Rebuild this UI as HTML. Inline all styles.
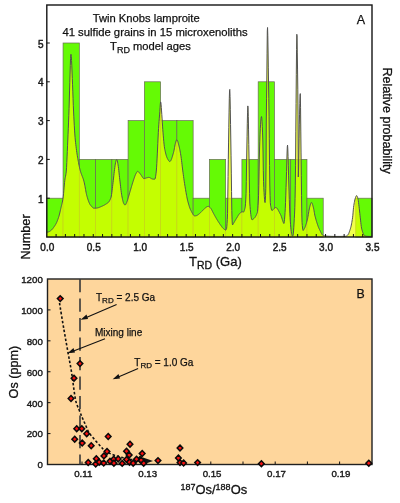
<!DOCTYPE html>
<html><head><meta charset="utf-8"><style>
html,body{margin:0;padding:0;background:#fff;}
svg{display:block;font-family:"Liberation Sans",sans-serif;filter:blur(0.35px);}
</style></head><body>
<svg width="400" height="503" viewBox="0 0 400 503">
<rect x="0" y="0" width="400" height="503" fill="#fff"/>
<g fill="#65fa05" stroke="#6a6a58" stroke-width="0.7">
<rect x="46.80" y="198.20" width="16.26" height="38.80"/>
<rect x="63.06" y="43.00" width="16.26" height="194.00"/>
<rect x="79.32" y="159.40" width="16.26" height="77.60"/>
<rect x="95.58" y="159.40" width="16.26" height="77.60"/>
<rect x="111.84" y="159.40" width="16.26" height="77.60"/>
<rect x="128.10" y="120.60" width="16.26" height="116.40"/>
<rect x="144.36" y="81.80" width="16.26" height="155.20"/>
<rect x="160.62" y="120.60" width="16.26" height="116.40"/>
<rect x="176.88" y="120.60" width="16.26" height="116.40"/>
<rect x="193.14" y="198.20" width="16.26" height="38.80"/>
<rect x="209.40" y="159.40" width="16.26" height="77.60"/>
<rect x="225.66" y="198.20" width="16.26" height="38.80"/>
<rect x="241.92" y="159.40" width="16.26" height="77.60"/>
<rect x="258.18" y="81.80" width="16.26" height="155.20"/>
<rect x="274.44" y="159.40" width="16.26" height="77.60"/>
<rect x="290.70" y="159.40" width="16.26" height="77.60"/>
<rect x="306.96" y="198.20" width="16.26" height="38.80"/>
<rect x="355.74" y="198.20" width="16.26" height="38.80"/>
</g>
<polygon points="46.8,237.0 46.80,232.20 47.05,232.19 47.30,232.16 47.55,232.12 47.80,232.07 48.05,232.01 48.30,231.95 48.55,231.89 48.80,231.81 49.05,231.70 49.30,231.58 49.55,231.43 49.80,231.28 50.05,231.11 50.30,230.94 50.55,230.76 50.80,230.57 51.05,230.39 51.30,230.18 51.55,229.96 51.80,229.71 52.05,229.45 52.30,229.17 52.55,228.88 52.80,228.57 53.05,228.25 53.30,227.92 53.55,227.57 53.80,227.22 54.05,226.86 54.30,226.50 54.55,226.13 54.80,225.76 55.05,225.38 55.30,225.00 55.55,224.60 55.80,224.17 56.05,223.70 56.30,223.20 56.55,222.66 56.80,222.10 57.05,221.51 57.30,220.89 57.55,220.24 57.80,219.57 58.05,218.88 58.30,218.18 58.55,217.45 58.80,216.68 59.05,215.83 59.30,214.91 59.55,213.93 59.80,212.90 60.05,211.84 60.30,210.75 60.55,209.65 60.80,208.55 61.05,207.47 61.30,206.40 61.55,205.37 61.80,204.36 62.05,203.32 62.30,202.23 62.55,201.03 62.80,199.69 63.05,198.17 63.30,196.15 63.55,193.63 63.80,190.81 64.05,187.89 64.30,185.04 64.55,182.47 64.80,180.37 65.05,178.76 65.30,177.45 65.55,176.22 65.80,174.88 66.05,173.22 66.30,171.06 66.55,167.78 66.80,162.50 67.05,156.93 67.30,151.46 67.55,145.80 67.80,140.00 68.05,134.15 68.30,128.22 68.55,122.08 68.80,115.57 69.05,108.51 69.30,100.01 69.55,90.97 69.80,82.78 70.05,74.09 70.30,65.58 70.55,58.59 70.80,54.51 71.05,54.24 71.30,56.45 71.55,60.48 71.80,65.83 72.05,72.01 72.30,78.50 72.55,84.80 72.80,91.17 73.05,98.32 73.30,105.27 73.55,111.04 73.80,116.15 74.05,121.09 74.30,125.76 74.55,130.08 74.80,133.95 75.05,137.29 75.30,140.00 75.55,142.32 75.80,144.53 76.05,146.64 76.30,148.65 76.55,150.55 76.80,152.35 77.05,154.05 77.30,155.65 77.55,157.15 77.80,158.56 78.05,159.94 78.30,161.32 78.55,162.68 78.80,164.00 79.05,165.29 79.30,166.52 79.55,167.69 79.80,168.79 80.05,169.81 80.30,170.74 80.55,171.59 80.80,172.39 81.05,173.13 81.30,173.83 81.55,174.50 81.80,175.15 82.05,175.79 82.30,176.43 82.55,177.08 82.80,177.75 83.05,178.45 83.30,179.20 83.55,180.00 83.80,180.86 84.05,181.80 84.30,182.85 84.55,184.02 84.80,185.30 85.05,186.66 85.30,188.06 85.55,189.47 85.80,190.86 86.05,192.21 86.30,193.47 86.55,194.63 86.80,195.64 87.05,196.52 87.30,197.36 87.55,198.19 87.80,198.99 88.05,199.76 88.30,200.51 88.55,201.21 88.80,201.88 89.05,202.51 89.30,203.09 89.55,203.62 89.80,204.10 90.05,204.52 90.30,204.88 90.55,205.18 90.80,205.49 91.05,205.79 91.30,206.10 91.55,206.40 91.80,206.69 92.05,206.96 92.30,207.22 92.55,207.46 92.80,207.67 93.05,207.85 93.30,208.00 93.55,208.11 93.80,208.18 94.05,208.20 94.30,208.21 94.55,208.22 94.80,208.22 95.05,208.22 95.30,208.21 95.55,208.20 95.80,208.19 96.05,208.17 96.30,208.14 96.55,208.11 96.80,208.08 97.05,208.03 97.30,207.98 97.55,207.92 97.80,207.86 98.05,207.78 98.30,207.71 98.55,207.62 98.80,207.54 99.05,207.45 99.30,207.35 99.55,207.25 99.80,207.16 100.05,207.05 100.30,206.95 100.55,206.84 100.80,206.74 101.05,206.63 101.30,206.52 101.55,206.41 101.80,206.29 102.05,206.18 102.30,206.07 102.55,205.96 102.80,205.84 103.05,205.73 103.30,205.61 103.55,205.49 103.80,205.36 104.05,205.23 104.30,205.09 104.55,204.95 104.80,204.81 105.05,204.66 105.30,204.50 105.55,204.35 105.80,204.19 106.05,204.03 106.30,203.87 106.55,203.70 106.80,203.54 107.05,203.37 107.30,203.20 107.55,203.04 107.80,202.87 108.05,202.69 108.30,202.48 108.55,202.22 108.80,201.91 109.05,201.57 109.30,201.18 109.55,200.75 109.80,200.28 110.05,199.76 110.30,199.21 110.55,198.61 110.80,197.97 111.05,197.21 111.30,196.05 111.55,194.54 111.80,192.75 112.05,190.78 112.30,188.69 112.55,186.57 112.80,184.50 113.05,182.49 113.30,180.33 113.55,178.06 113.80,175.76 114.05,173.51 114.30,171.37 114.55,169.43 114.80,167.55 115.05,165.74 115.30,164.07 115.55,162.63 115.80,161.50 116.05,160.64 116.30,160.01 116.55,159.67 116.80,159.70 117.05,160.14 117.30,160.94 117.55,162.05 117.80,163.37 118.05,164.86 118.30,166.46 118.55,168.37 118.80,170.54 119.05,172.87 119.30,175.26 119.55,177.61 119.80,179.80 120.05,181.93 120.30,184.12 120.55,186.32 120.80,188.47 121.05,190.54 121.30,192.47 121.55,194.20 121.80,195.70 122.05,197.03 122.30,198.30 122.55,199.49 122.80,200.57 123.05,201.55 123.30,202.39 123.55,203.08 123.80,203.60 124.05,204.04 124.30,204.44 124.55,204.78 124.80,205.00 125.05,205.06 125.30,204.92 125.55,204.66 125.80,204.29 126.05,203.83 126.30,203.31 126.55,202.73 126.80,202.11 127.05,201.47 127.30,200.78 127.55,200.05 127.80,199.27 128.05,198.45 128.30,197.61 128.55,196.75 128.80,195.87 129.05,194.99 129.30,194.11 129.55,193.23 129.80,192.37 130.05,191.53 130.30,190.70 130.55,189.85 130.80,188.99 131.05,188.14 131.30,187.28 131.55,186.42 131.80,185.58 132.05,184.74 132.30,183.91 132.55,183.10 132.80,182.31 133.05,181.55 133.30,180.78 133.55,180.01 133.80,179.24 134.05,178.48 134.30,177.74 134.55,177.02 134.80,176.32 135.05,175.67 135.30,175.06 135.55,174.49 135.80,173.99 136.05,173.53 136.30,173.06 136.55,172.60 136.80,172.18 137.05,171.82 137.30,171.55 137.55,171.39 137.80,171.36 138.05,171.48 138.30,171.66 138.55,171.87 138.80,172.12 139.05,172.40 139.30,172.70 139.55,173.03 139.80,173.36 140.05,173.69 140.30,174.03 140.55,174.36 140.80,174.68 141.05,174.99 141.30,175.35 141.55,175.74 141.80,176.15 142.05,176.57 142.30,176.98 142.55,177.38 142.80,177.74 143.05,178.06 143.30,178.31 143.55,178.50 143.80,178.59 144.05,178.60 144.30,178.58 144.55,178.53 144.80,178.48 145.05,178.40 145.30,178.32 145.55,178.23 145.80,178.14 146.05,178.05 146.30,177.97 146.55,177.89 146.80,177.82 147.05,177.77 147.30,177.70 147.55,177.63 147.80,177.57 148.05,177.51 148.30,177.45 148.55,177.42 148.80,177.40 149.05,177.41 149.30,177.46 149.55,177.53 149.80,177.64 150.05,177.77 150.30,177.91 150.55,178.07 150.80,178.23 151.05,178.38 151.30,178.54 151.55,178.68 151.80,178.80 152.05,178.90 152.30,178.99 152.55,179.05 152.80,179.11 153.05,179.15 153.30,179.17 153.55,179.19 153.80,179.20 154.05,179.21 154.30,179.21 154.55,179.20 154.80,179.20 155.05,178.89 155.30,178.03 155.55,176.72 155.80,175.08 156.05,173.20 156.30,171.07 156.55,167.86 156.80,163.68 157.05,158.90 157.30,153.90 157.55,149.03 157.80,143.66 158.05,137.99 158.30,132.78 158.55,128.58 158.80,124.86 159.05,121.43 159.30,118.16 159.55,114.95 159.80,111.60 160.05,107.70 160.30,104.11 160.55,101.96 160.80,102.10 161.05,104.14 161.30,107.34 161.55,110.94 161.80,114.35 162.05,118.10 162.30,122.12 162.55,126.10 162.80,129.72 163.05,132.83 163.30,135.88 163.55,138.84 163.80,141.64 164.05,144.18 164.30,146.39 164.55,148.17 164.80,149.49 165.05,150.67 165.30,151.79 165.55,152.86 165.80,153.87 166.05,154.81 166.30,155.68 166.55,156.47 166.80,157.17 167.05,157.79 167.30,158.32 167.55,158.77 167.80,159.22 168.05,159.67 168.30,160.10 168.55,160.50 168.80,160.86 169.05,161.16 169.30,161.38 169.55,161.52 169.80,161.55 170.05,161.47 170.30,161.28 170.55,160.98 170.80,160.59 171.05,160.11 171.30,159.56 171.55,158.93 171.80,158.24 172.05,157.50 172.30,156.71 172.55,155.89 172.80,155.03 173.05,154.16 173.30,153.27 173.55,152.38 173.80,151.40 174.05,150.21 174.30,148.87 174.55,147.47 174.80,146.09 175.05,144.80 175.30,143.68 175.55,142.76 175.80,141.89 176.05,141.10 176.30,140.45 176.55,140.00 176.80,139.80 177.05,139.89 177.30,140.24 177.55,140.78 177.80,141.50 178.05,142.34 178.30,143.26 178.55,144.24 178.80,145.23 179.05,146.19 179.30,147.21 179.55,148.32 179.80,149.52 180.05,150.82 180.30,152.19 180.55,153.64 180.80,155.17 181.05,156.79 181.30,158.60 181.55,160.57 181.80,162.63 182.05,164.75 182.30,166.88 182.55,168.96 182.80,170.94 183.05,172.82 183.30,174.67 183.55,176.52 183.80,178.33 184.05,180.11 184.30,181.84 184.55,183.50 184.80,185.09 185.05,186.61 185.30,188.12 185.55,189.61 185.80,191.09 186.05,192.55 186.30,193.97 186.55,195.34 186.80,196.66 187.05,197.91 187.30,199.10 187.55,200.20 187.80,201.22 188.05,202.15 188.30,203.06 188.55,203.95 188.80,204.81 189.05,205.64 189.30,206.43 189.55,207.19 189.80,207.91 190.05,208.59 190.30,209.21 190.55,209.79 190.80,210.31 191.05,210.78 191.30,211.27 191.55,211.76 191.80,212.25 192.05,212.74 192.30,213.21 192.55,213.67 192.80,214.09 193.05,214.49 193.30,214.85 193.55,215.16 193.80,215.42 194.05,215.61 194.30,215.75 194.55,215.81 194.80,215.83 195.05,215.84 195.30,215.84 195.55,215.82 195.80,215.78 196.05,215.73 196.30,215.66 196.55,215.58 196.80,215.48 197.05,215.37 197.30,215.24 197.55,215.10 197.80,214.94 198.05,214.76 198.30,214.58 198.55,214.39 198.80,214.18 199.05,213.97 199.30,213.76 199.55,213.53 199.80,213.31 200.05,213.07 200.30,212.84 200.55,212.60 200.80,212.36 201.05,212.12 201.30,211.87 201.55,211.63 201.80,211.39 202.05,211.15 202.30,210.91 202.55,210.65 202.80,210.39 203.05,210.13 203.30,209.86 203.55,209.60 203.80,209.33 204.05,209.08 204.30,208.82 204.55,208.58 204.80,208.34 205.05,208.12 205.30,207.92 205.55,207.72 205.80,207.52 206.05,207.34 206.30,207.16 206.55,207.00 206.80,206.85 207.05,206.71 207.30,206.60 207.55,206.51 207.80,206.44 208.05,206.39 208.30,206.40 208.55,206.45 208.80,206.55 209.05,206.68 209.30,206.86 209.55,207.06 209.80,207.29 210.05,207.55 210.30,207.82 210.55,208.11 210.80,208.40 211.05,208.73 211.30,209.12 211.55,209.55 211.80,210.01 212.05,210.51 212.30,211.01 212.55,211.53 212.80,212.03 213.05,212.52 213.30,212.98 213.55,213.45 213.80,213.91 214.05,214.37 214.30,214.84 214.55,215.30 214.80,215.76 215.05,216.22 215.30,216.67 215.55,217.11 215.80,217.55 216.05,217.98 216.30,218.41 216.55,218.83 216.80,219.25 217.05,219.67 217.30,220.08 217.55,220.48 217.80,220.88 218.05,221.28 218.30,221.67 218.55,222.06 218.80,222.44 219.05,222.82 219.30,223.20 219.55,223.57 219.80,223.94 220.05,224.30 220.30,224.66 220.55,225.01 220.80,225.37 221.05,225.73 221.30,226.08 221.55,226.43 221.80,226.77 222.05,227.10 222.30,227.42 222.55,227.72 222.80,228.00 223.05,228.26 223.30,228.50 223.55,228.73 223.80,228.94 224.05,229.14 224.30,229.34 224.55,229.53 224.80,229.71 225.05,229.89 225.30,230.05 225.55,230.05 225.80,229.90 226.05,229.69 226.30,229.50 226.55,228.75 226.80,226.81 227.05,223.68 227.30,219.34 227.55,213.37 227.80,196.09 228.05,176.57 228.30,159.24 228.55,142.96 228.80,127.77 229.05,112.16 229.30,98.75 229.55,90.28 229.80,89.42 230.05,96.57 230.30,109.22 230.55,124.60 230.80,140.00 231.05,155.84 231.30,173.11 231.55,191.60 231.80,210.48 232.05,219.20 232.30,223.90 232.55,224.93 232.80,224.58 233.05,224.20 233.30,223.81 233.55,223.40 233.80,222.97 234.05,222.53 234.30,222.09 234.55,221.64 234.80,221.20 235.05,220.75 235.30,220.31 235.55,219.88 235.80,219.46 236.05,219.06 236.30,218.67 236.55,218.28 236.80,217.88 237.05,217.46 237.30,217.04 237.55,216.62 237.80,216.20 238.05,215.78 238.30,215.37 238.55,214.97 238.80,214.59 239.05,214.23 239.30,213.89 239.55,213.58 239.80,213.30 240.05,213.05 240.30,212.84 240.55,212.64 240.80,212.47 241.05,212.32 241.30,212.18 241.55,212.05 241.80,211.94 242.05,211.85 242.30,211.82 242.55,211.84 242.80,211.89 243.05,211.95 243.30,211.99 243.55,212.00 243.80,211.85 244.05,211.34 244.30,210.58 244.55,209.67 244.80,208.72 245.05,207.81 245.30,206.11 245.55,203.22 245.80,199.12 246.05,193.65 246.30,181.56 246.55,165.00 246.80,150.00 247.05,136.78 247.30,123.29 247.55,112.14 247.80,105.92 248.05,107.27 248.30,116.32 248.55,129.88 248.80,144.56 249.05,159.03 249.30,177.08 249.55,193.73 249.80,203.00 250.05,206.41 250.30,209.44 250.55,212.10 250.80,214.37 251.05,216.25 251.30,217.75 251.55,218.84 251.80,219.54 252.05,219.82 252.30,219.73 252.55,219.57 252.80,219.40 253.05,219.22 253.30,219.04 253.55,218.84 253.80,218.63 254.05,218.41 254.30,218.16 254.55,217.90 254.80,217.61 255.05,217.30 255.30,216.96 255.55,216.56 255.80,216.11 256.05,215.60 256.30,215.06 256.55,214.48 256.80,213.87 257.05,213.24 257.30,212.60 257.55,211.33 257.80,208.88 258.05,205.41 258.30,201.05 258.55,195.75 258.80,185.27 259.05,171.11 259.30,157.94 259.55,149.00 259.80,141.16 260.05,134.22 260.30,128.49 260.55,124.27 260.80,121.01 261.05,118.49 261.30,116.93 261.55,116.54 261.80,118.09 262.05,121.60 262.30,126.67 262.55,132.93 262.80,140.00 263.05,153.03 263.30,170.31 263.55,181.42 263.80,187.63 264.05,192.55 264.30,196.41 264.55,199.45 264.80,201.90 265.05,202.58 265.30,200.37 265.55,195.55 265.80,188.43 266.05,165.96 266.30,120.00 266.55,98.83 266.80,80.00 267.05,53.87 267.30,31.08 267.55,27.49 267.80,35.53 268.05,50.03 268.30,67.11 268.55,82.97 268.80,98.68 269.05,116.22 269.30,138.80 269.55,165.64 269.80,185.00 270.05,195.36 270.30,202.45 270.55,205.24 270.80,206.50 271.05,207.77 271.30,208.92 271.55,209.83 271.80,210.39 272.05,210.48 272.30,210.36 272.55,210.20 272.80,210.00 273.05,209.77 273.30,209.51 273.55,209.24 273.80,208.97 274.05,208.70 274.30,208.43 274.55,208.19 274.80,207.97 275.05,207.79 275.30,207.64 275.55,207.55 275.80,207.52 276.05,207.55 276.30,207.66 276.55,207.84 276.80,208.09 277.05,208.38 277.30,208.70 277.55,209.06 277.80,209.45 278.05,209.86 278.30,210.30 278.55,210.75 278.80,211.22 279.05,211.70 279.30,212.19 279.55,212.68 279.80,213.17 280.05,213.65 280.30,214.13 280.55,214.59 280.80,215.12 281.05,215.74 281.30,216.42 281.55,217.16 281.80,217.94 282.05,218.73 282.30,219.53 282.55,220.32 282.80,221.08 283.05,221.79 283.30,222.45 283.55,223.02 283.80,223.50 284.05,223.23 284.30,221.72 284.55,219.24 284.80,216.02 285.05,212.34 285.30,208.23 285.55,202.39 285.80,195.18 286.05,187.43 286.30,180.00 286.55,171.67 286.80,162.01 287.05,153.04 287.30,146.75 287.55,145.14 287.80,148.91 288.05,156.41 288.30,165.78 288.55,175.15 288.80,183.01 289.05,191.10 289.30,199.36 289.55,206.96 289.80,213.12 290.05,217.44 290.30,221.14 290.55,224.41 290.80,227.24 291.05,229.67 291.30,231.68 291.55,233.31 291.80,234.56 292.05,235.43 292.30,235.95 292.55,236.12 292.80,235.96 293.05,235.45 293.30,233.83 293.55,230.98 293.80,227.25 294.05,222.98 294.30,218.50 294.55,214.09 294.80,207.74 295.05,198.34 295.30,185.86 295.55,165.82 295.80,131.90 296.05,103.53 296.30,74.71 296.55,49.56 296.80,34.27 297.05,35.85 297.30,52.92 297.55,69.96 297.80,89.16 298.05,114.08 298.30,177.00 298.55,170.36 298.80,155.98 299.05,138.90 299.30,124.13 299.55,114.16 299.80,103.31 300.05,94.96 300.30,93.60 300.55,107.29 300.80,131.05 301.05,152.95 301.30,175.37 301.55,195.36 301.80,213.90 302.05,222.63 302.30,225.56 302.55,227.99 302.80,229.70 303.05,230.52 303.30,230.35 303.55,229.97 303.80,229.58 304.05,229.17 304.30,228.75 304.55,228.28 304.80,227.77 305.05,227.20 305.30,226.56 305.55,225.85 305.80,225.10 306.05,224.32 306.30,223.51 306.55,222.66 306.80,221.76 307.05,220.83 307.30,219.83 307.55,218.78 307.80,217.56 308.05,216.17 308.30,214.67 308.55,213.13 308.80,211.61 309.05,210.17 309.30,208.88 309.55,207.80 309.80,206.79 310.05,205.82 310.30,204.90 310.55,204.08 310.80,203.40 311.05,202.88 311.30,202.57 311.55,202.51 311.80,202.69 312.05,203.10 312.30,203.70 312.55,204.44 312.80,205.29 313.05,206.23 313.30,207.21 313.55,208.20 313.80,209.40 314.05,210.82 314.30,212.32 314.55,213.80 314.80,215.13 315.05,216.19 315.30,217.14 315.55,218.06 315.80,218.97 316.05,219.85 316.30,220.72 316.55,221.56 316.80,222.38 317.05,223.17 317.30,223.94 317.55,224.68 317.80,225.40 318.05,226.09 318.30,226.75 318.55,227.38 318.80,227.98 319.05,228.55 319.30,229.09 319.55,229.60 319.80,230.11 320.05,230.64 320.30,231.17 320.55,231.71 320.80,232.24 321.05,232.75 321.30,233.24 321.55,233.70 321.80,234.13 322.05,234.51 322.30,234.84 322.55,235.11 322.80,235.32 323.05,235.46 323.30,235.52 323.55,235.56 323.80,235.61 324.05,235.65 324.30,235.70 324.55,235.74 324.80,235.78 325.05,235.82 325.30,235.85 325.55,235.89 325.80,235.93 326.05,235.96 326.30,235.99 326.55,236.03 326.80,236.06 327.05,236.08 327.30,236.11 327.55,236.14 327.80,236.16 328.05,236.18 328.30,236.20 328.55,236.22 328.80,236.24 329.05,236.26 329.30,236.27 329.55,236.28 329.80,236.29 330.05,236.30 330.30,236.31 330.55,236.32 330.80,236.32 331.05,236.33 331.30,236.34 331.55,236.34 331.80,236.35 332.05,236.35 332.30,236.36 332.55,236.37 332.80,236.37 333.05,236.37 333.30,236.38 333.55,236.38 333.80,236.39 334.05,236.39 334.30,236.39 334.55,236.40 334.80,236.40 335.05,236.40 335.30,236.41 335.55,236.41 335.80,236.41 336.05,236.41 336.30,236.41 336.55,236.41 336.80,236.41 337.05,236.41 337.30,236.42 337.55,236.42 337.80,236.42 338.05,236.41 338.30,236.41 338.55,236.41 338.80,236.41 339.05,236.41 339.30,236.41 339.55,236.41 339.80,236.41 340.05,236.40 340.30,236.40 340.55,236.40 340.80,236.40 341.05,236.39 341.30,236.39 341.55,236.39 341.80,236.38 342.05,236.38 342.30,236.37 342.55,236.37 342.80,236.36 343.05,236.36 343.30,236.35 343.55,236.35 343.80,236.34 344.05,236.34 344.30,236.33 344.55,236.33 344.80,236.32 345.05,236.31 345.30,236.31 345.55,236.30 345.80,236.26 346.05,236.18 346.30,236.07 346.55,235.93 346.80,235.77 347.05,235.59 347.30,235.39 347.55,235.20 347.80,235.00 348.05,234.74 348.30,234.36 348.55,233.88 348.80,233.31 349.05,232.67 349.30,231.98 349.55,231.25 349.80,230.50 350.05,229.74 350.30,229.00 350.55,228.21 350.80,227.29 351.05,226.25 351.30,225.10 351.55,223.85 351.80,222.49 352.05,221.03 352.30,219.48 352.55,217.84 352.80,215.77 353.05,212.90 353.30,209.88 353.55,207.38 353.80,205.62 354.05,203.99 354.30,202.49 354.55,201.15 354.80,199.97 355.05,198.99 355.30,198.20 355.55,197.45 355.80,196.76 356.05,196.18 356.30,195.77 356.55,195.58 356.80,195.68 357.05,196.03 357.30,196.59 357.55,197.31 357.80,198.15 358.05,199.14 358.30,200.62 358.55,202.47 358.80,204.51 359.05,206.59 359.30,208.70 359.55,211.00 359.80,213.37 360.05,215.69 360.30,217.87 360.55,220.14 360.80,222.44 361.05,224.63 361.30,226.58 361.55,228.12 361.80,229.18 362.05,230.09 362.30,230.95 362.55,231.76 362.80,232.50 363.05,233.18 363.30,233.78 363.55,234.31 363.80,234.75 364.05,235.11 364.30,235.37 364.55,235.53 364.80,235.66 365.05,235.79 365.30,235.92 365.55,236.03 365.80,236.14 366.05,236.22 366.30,236.28 366.55,236.30 366.80,236.32 367.05,236.33 367.30,236.35 367.55,236.37 367.80,236.38 368.05,236.40 368.30,236.41 368.55,236.42 368.80,236.43 369.05,236.44 369.30,236.45 369.55,236.45 369.80,236.45 370.05,236.45 370.30,236.44 370.55,236.43 370.80,236.42 371.05,236.41 371.30,236.38 371.55,236.36 371.80,236.33 372.0,237.0" fill="#ecff00" fill-opacity="0.7" stroke="none"/>
<polyline points="46.80,232.20 47.05,232.19 47.30,232.16 47.55,232.12 47.80,232.07 48.05,232.01 48.30,231.95 48.55,231.89 48.80,231.81 49.05,231.70 49.30,231.58 49.55,231.43 49.80,231.28 50.05,231.11 50.30,230.94 50.55,230.76 50.80,230.57 51.05,230.39 51.30,230.18 51.55,229.96 51.80,229.71 52.05,229.45 52.30,229.17 52.55,228.88 52.80,228.57 53.05,228.25 53.30,227.92 53.55,227.57 53.80,227.22 54.05,226.86 54.30,226.50 54.55,226.13 54.80,225.76 55.05,225.38 55.30,225.00 55.55,224.60 55.80,224.17 56.05,223.70 56.30,223.20 56.55,222.66 56.80,222.10 57.05,221.51 57.30,220.89 57.55,220.24 57.80,219.57 58.05,218.88 58.30,218.18 58.55,217.45 58.80,216.68 59.05,215.83 59.30,214.91 59.55,213.93 59.80,212.90 60.05,211.84 60.30,210.75 60.55,209.65 60.80,208.55 61.05,207.47 61.30,206.40 61.55,205.37 61.80,204.36 62.05,203.32 62.30,202.23 62.55,201.03 62.80,199.69 63.05,198.17 63.30,196.15 63.55,193.63 63.80,190.81 64.05,187.89 64.30,185.04 64.55,182.47 64.80,180.37 65.05,178.76 65.30,177.45 65.55,176.22 65.80,174.88 66.05,173.22 66.30,171.06 66.55,167.78 66.80,162.50 67.05,156.93 67.30,151.46 67.55,145.80 67.80,140.00 68.05,134.15 68.30,128.22 68.55,122.08 68.80,115.57 69.05,108.51 69.30,100.01 69.55,90.97 69.80,82.78 70.05,74.09 70.30,65.58 70.55,58.59 70.80,54.51 71.05,54.24 71.30,56.45 71.55,60.48 71.80,65.83 72.05,72.01 72.30,78.50 72.55,84.80 72.80,91.17 73.05,98.32 73.30,105.27 73.55,111.04 73.80,116.15 74.05,121.09 74.30,125.76 74.55,130.08 74.80,133.95 75.05,137.29 75.30,140.00 75.55,142.32 75.80,144.53 76.05,146.64 76.30,148.65 76.55,150.55 76.80,152.35 77.05,154.05 77.30,155.65 77.55,157.15 77.80,158.56 78.05,159.94 78.30,161.32 78.55,162.68 78.80,164.00 79.05,165.29 79.30,166.52 79.55,167.69 79.80,168.79 80.05,169.81 80.30,170.74 80.55,171.59 80.80,172.39 81.05,173.13 81.30,173.83 81.55,174.50 81.80,175.15 82.05,175.79 82.30,176.43 82.55,177.08 82.80,177.75 83.05,178.45 83.30,179.20 83.55,180.00 83.80,180.86 84.05,181.80 84.30,182.85 84.55,184.02 84.80,185.30 85.05,186.66 85.30,188.06 85.55,189.47 85.80,190.86 86.05,192.21 86.30,193.47 86.55,194.63 86.80,195.64 87.05,196.52 87.30,197.36 87.55,198.19 87.80,198.99 88.05,199.76 88.30,200.51 88.55,201.21 88.80,201.88 89.05,202.51 89.30,203.09 89.55,203.62 89.80,204.10 90.05,204.52 90.30,204.88 90.55,205.18 90.80,205.49 91.05,205.79 91.30,206.10 91.55,206.40 91.80,206.69 92.05,206.96 92.30,207.22 92.55,207.46 92.80,207.67 93.05,207.85 93.30,208.00 93.55,208.11 93.80,208.18 94.05,208.20 94.30,208.21 94.55,208.22 94.80,208.22 95.05,208.22 95.30,208.21 95.55,208.20 95.80,208.19 96.05,208.17 96.30,208.14 96.55,208.11 96.80,208.08 97.05,208.03 97.30,207.98 97.55,207.92 97.80,207.86 98.05,207.78 98.30,207.71 98.55,207.62 98.80,207.54 99.05,207.45 99.30,207.35 99.55,207.25 99.80,207.16 100.05,207.05 100.30,206.95 100.55,206.84 100.80,206.74 101.05,206.63 101.30,206.52 101.55,206.41 101.80,206.29 102.05,206.18 102.30,206.07 102.55,205.96 102.80,205.84 103.05,205.73 103.30,205.61 103.55,205.49 103.80,205.36 104.05,205.23 104.30,205.09 104.55,204.95 104.80,204.81 105.05,204.66 105.30,204.50 105.55,204.35 105.80,204.19 106.05,204.03 106.30,203.87 106.55,203.70 106.80,203.54 107.05,203.37 107.30,203.20 107.55,203.04 107.80,202.87 108.05,202.69 108.30,202.48 108.55,202.22 108.80,201.91 109.05,201.57 109.30,201.18 109.55,200.75 109.80,200.28 110.05,199.76 110.30,199.21 110.55,198.61 110.80,197.97 111.05,197.21 111.30,196.05 111.55,194.54 111.80,192.75 112.05,190.78 112.30,188.69 112.55,186.57 112.80,184.50 113.05,182.49 113.30,180.33 113.55,178.06 113.80,175.76 114.05,173.51 114.30,171.37 114.55,169.43 114.80,167.55 115.05,165.74 115.30,164.07 115.55,162.63 115.80,161.50 116.05,160.64 116.30,160.01 116.55,159.67 116.80,159.70 117.05,160.14 117.30,160.94 117.55,162.05 117.80,163.37 118.05,164.86 118.30,166.46 118.55,168.37 118.80,170.54 119.05,172.87 119.30,175.26 119.55,177.61 119.80,179.80 120.05,181.93 120.30,184.12 120.55,186.32 120.80,188.47 121.05,190.54 121.30,192.47 121.55,194.20 121.80,195.70 122.05,197.03 122.30,198.30 122.55,199.49 122.80,200.57 123.05,201.55 123.30,202.39 123.55,203.08 123.80,203.60 124.05,204.04 124.30,204.44 124.55,204.78 124.80,205.00 125.05,205.06 125.30,204.92 125.55,204.66 125.80,204.29 126.05,203.83 126.30,203.31 126.55,202.73 126.80,202.11 127.05,201.47 127.30,200.78 127.55,200.05 127.80,199.27 128.05,198.45 128.30,197.61 128.55,196.75 128.80,195.87 129.05,194.99 129.30,194.11 129.55,193.23 129.80,192.37 130.05,191.53 130.30,190.70 130.55,189.85 130.80,188.99 131.05,188.14 131.30,187.28 131.55,186.42 131.80,185.58 132.05,184.74 132.30,183.91 132.55,183.10 132.80,182.31 133.05,181.55 133.30,180.78 133.55,180.01 133.80,179.24 134.05,178.48 134.30,177.74 134.55,177.02 134.80,176.32 135.05,175.67 135.30,175.06 135.55,174.49 135.80,173.99 136.05,173.53 136.30,173.06 136.55,172.60 136.80,172.18 137.05,171.82 137.30,171.55 137.55,171.39 137.80,171.36 138.05,171.48 138.30,171.66 138.55,171.87 138.80,172.12 139.05,172.40 139.30,172.70 139.55,173.03 139.80,173.36 140.05,173.69 140.30,174.03 140.55,174.36 140.80,174.68 141.05,174.99 141.30,175.35 141.55,175.74 141.80,176.15 142.05,176.57 142.30,176.98 142.55,177.38 142.80,177.74 143.05,178.06 143.30,178.31 143.55,178.50 143.80,178.59 144.05,178.60 144.30,178.58 144.55,178.53 144.80,178.48 145.05,178.40 145.30,178.32 145.55,178.23 145.80,178.14 146.05,178.05 146.30,177.97 146.55,177.89 146.80,177.82 147.05,177.77 147.30,177.70 147.55,177.63 147.80,177.57 148.05,177.51 148.30,177.45 148.55,177.42 148.80,177.40 149.05,177.41 149.30,177.46 149.55,177.53 149.80,177.64 150.05,177.77 150.30,177.91 150.55,178.07 150.80,178.23 151.05,178.38 151.30,178.54 151.55,178.68 151.80,178.80 152.05,178.90 152.30,178.99 152.55,179.05 152.80,179.11 153.05,179.15 153.30,179.17 153.55,179.19 153.80,179.20 154.05,179.21 154.30,179.21 154.55,179.20 154.80,179.20 155.05,178.89 155.30,178.03 155.55,176.72 155.80,175.08 156.05,173.20 156.30,171.07 156.55,167.86 156.80,163.68 157.05,158.90 157.30,153.90 157.55,149.03 157.80,143.66 158.05,137.99 158.30,132.78 158.55,128.58 158.80,124.86 159.05,121.43 159.30,118.16 159.55,114.95 159.80,111.60 160.05,107.70 160.30,104.11 160.55,101.96 160.80,102.10 161.05,104.14 161.30,107.34 161.55,110.94 161.80,114.35 162.05,118.10 162.30,122.12 162.55,126.10 162.80,129.72 163.05,132.83 163.30,135.88 163.55,138.84 163.80,141.64 164.05,144.18 164.30,146.39 164.55,148.17 164.80,149.49 165.05,150.67 165.30,151.79 165.55,152.86 165.80,153.87 166.05,154.81 166.30,155.68 166.55,156.47 166.80,157.17 167.05,157.79 167.30,158.32 167.55,158.77 167.80,159.22 168.05,159.67 168.30,160.10 168.55,160.50 168.80,160.86 169.05,161.16 169.30,161.38 169.55,161.52 169.80,161.55 170.05,161.47 170.30,161.28 170.55,160.98 170.80,160.59 171.05,160.11 171.30,159.56 171.55,158.93 171.80,158.24 172.05,157.50 172.30,156.71 172.55,155.89 172.80,155.03 173.05,154.16 173.30,153.27 173.55,152.38 173.80,151.40 174.05,150.21 174.30,148.87 174.55,147.47 174.80,146.09 175.05,144.80 175.30,143.68 175.55,142.76 175.80,141.89 176.05,141.10 176.30,140.45 176.55,140.00 176.80,139.80 177.05,139.89 177.30,140.24 177.55,140.78 177.80,141.50 178.05,142.34 178.30,143.26 178.55,144.24 178.80,145.23 179.05,146.19 179.30,147.21 179.55,148.32 179.80,149.52 180.05,150.82 180.30,152.19 180.55,153.64 180.80,155.17 181.05,156.79 181.30,158.60 181.55,160.57 181.80,162.63 182.05,164.75 182.30,166.88 182.55,168.96 182.80,170.94 183.05,172.82 183.30,174.67 183.55,176.52 183.80,178.33 184.05,180.11 184.30,181.84 184.55,183.50 184.80,185.09 185.05,186.61 185.30,188.12 185.55,189.61 185.80,191.09 186.05,192.55 186.30,193.97 186.55,195.34 186.80,196.66 187.05,197.91 187.30,199.10 187.55,200.20 187.80,201.22 188.05,202.15 188.30,203.06 188.55,203.95 188.80,204.81 189.05,205.64 189.30,206.43 189.55,207.19 189.80,207.91 190.05,208.59 190.30,209.21 190.55,209.79 190.80,210.31 191.05,210.78 191.30,211.27 191.55,211.76 191.80,212.25 192.05,212.74 192.30,213.21 192.55,213.67 192.80,214.09 193.05,214.49 193.30,214.85 193.55,215.16 193.80,215.42 194.05,215.61 194.30,215.75 194.55,215.81 194.80,215.83 195.05,215.84 195.30,215.84 195.55,215.82 195.80,215.78 196.05,215.73 196.30,215.66 196.55,215.58 196.80,215.48 197.05,215.37 197.30,215.24 197.55,215.10 197.80,214.94 198.05,214.76 198.30,214.58 198.55,214.39 198.80,214.18 199.05,213.97 199.30,213.76 199.55,213.53 199.80,213.31 200.05,213.07 200.30,212.84 200.55,212.60 200.80,212.36 201.05,212.12 201.30,211.87 201.55,211.63 201.80,211.39 202.05,211.15 202.30,210.91 202.55,210.65 202.80,210.39 203.05,210.13 203.30,209.86 203.55,209.60 203.80,209.33 204.05,209.08 204.30,208.82 204.55,208.58 204.80,208.34 205.05,208.12 205.30,207.92 205.55,207.72 205.80,207.52 206.05,207.34 206.30,207.16 206.55,207.00 206.80,206.85 207.05,206.71 207.30,206.60 207.55,206.51 207.80,206.44 208.05,206.39 208.30,206.40 208.55,206.45 208.80,206.55 209.05,206.68 209.30,206.86 209.55,207.06 209.80,207.29 210.05,207.55 210.30,207.82 210.55,208.11 210.80,208.40 211.05,208.73 211.30,209.12 211.55,209.55 211.80,210.01 212.05,210.51 212.30,211.01 212.55,211.53 212.80,212.03 213.05,212.52 213.30,212.98 213.55,213.45 213.80,213.91 214.05,214.37 214.30,214.84 214.55,215.30 214.80,215.76 215.05,216.22 215.30,216.67 215.55,217.11 215.80,217.55 216.05,217.98 216.30,218.41 216.55,218.83 216.80,219.25 217.05,219.67 217.30,220.08 217.55,220.48 217.80,220.88 218.05,221.28 218.30,221.67 218.55,222.06 218.80,222.44 219.05,222.82 219.30,223.20 219.55,223.57 219.80,223.94 220.05,224.30 220.30,224.66 220.55,225.01 220.80,225.37 221.05,225.73 221.30,226.08 221.55,226.43 221.80,226.77 222.05,227.10 222.30,227.42 222.55,227.72 222.80,228.00 223.05,228.26 223.30,228.50 223.55,228.73 223.80,228.94 224.05,229.14 224.30,229.34 224.55,229.53 224.80,229.71 225.05,229.89 225.30,230.05 225.55,230.05 225.80,229.90 226.05,229.69 226.30,229.50 226.55,228.75 226.80,226.81 227.05,223.68 227.30,219.34 227.55,213.37 227.80,196.09 228.05,176.57 228.30,159.24 228.55,142.96 228.80,127.77 229.05,112.16 229.30,98.75 229.55,90.28 229.80,89.42 230.05,96.57 230.30,109.22 230.55,124.60 230.80,140.00 231.05,155.84 231.30,173.11 231.55,191.60 231.80,210.48 232.05,219.20 232.30,223.90 232.55,224.93 232.80,224.58 233.05,224.20 233.30,223.81 233.55,223.40 233.80,222.97 234.05,222.53 234.30,222.09 234.55,221.64 234.80,221.20 235.05,220.75 235.30,220.31 235.55,219.88 235.80,219.46 236.05,219.06 236.30,218.67 236.55,218.28 236.80,217.88 237.05,217.46 237.30,217.04 237.55,216.62 237.80,216.20 238.05,215.78 238.30,215.37 238.55,214.97 238.80,214.59 239.05,214.23 239.30,213.89 239.55,213.58 239.80,213.30 240.05,213.05 240.30,212.84 240.55,212.64 240.80,212.47 241.05,212.32 241.30,212.18 241.55,212.05 241.80,211.94 242.05,211.85 242.30,211.82 242.55,211.84 242.80,211.89 243.05,211.95 243.30,211.99 243.55,212.00 243.80,211.85 244.05,211.34 244.30,210.58 244.55,209.67 244.80,208.72 245.05,207.81 245.30,206.11 245.55,203.22 245.80,199.12 246.05,193.65 246.30,181.56 246.55,165.00 246.80,150.00 247.05,136.78 247.30,123.29 247.55,112.14 247.80,105.92 248.05,107.27 248.30,116.32 248.55,129.88 248.80,144.56 249.05,159.03 249.30,177.08 249.55,193.73 249.80,203.00 250.05,206.41 250.30,209.44 250.55,212.10 250.80,214.37 251.05,216.25 251.30,217.75 251.55,218.84 251.80,219.54 252.05,219.82 252.30,219.73 252.55,219.57 252.80,219.40 253.05,219.22 253.30,219.04 253.55,218.84 253.80,218.63 254.05,218.41 254.30,218.16 254.55,217.90 254.80,217.61 255.05,217.30 255.30,216.96 255.55,216.56 255.80,216.11 256.05,215.60 256.30,215.06 256.55,214.48 256.80,213.87 257.05,213.24 257.30,212.60 257.55,211.33 257.80,208.88 258.05,205.41 258.30,201.05 258.55,195.75 258.80,185.27 259.05,171.11 259.30,157.94 259.55,149.00 259.80,141.16 260.05,134.22 260.30,128.49 260.55,124.27 260.80,121.01 261.05,118.49 261.30,116.93 261.55,116.54 261.80,118.09 262.05,121.60 262.30,126.67 262.55,132.93 262.80,140.00 263.05,153.03 263.30,170.31 263.55,181.42 263.80,187.63 264.05,192.55 264.30,196.41 264.55,199.45 264.80,201.90 265.05,202.58 265.30,200.37 265.55,195.55 265.80,188.43 266.05,165.96 266.30,120.00 266.55,98.83 266.80,80.00 267.05,53.87 267.30,31.08 267.55,27.49 267.80,35.53 268.05,50.03 268.30,67.11 268.55,82.97 268.80,98.68 269.05,116.22 269.30,138.80 269.55,165.64 269.80,185.00 270.05,195.36 270.30,202.45 270.55,205.24 270.80,206.50 271.05,207.77 271.30,208.92 271.55,209.83 271.80,210.39 272.05,210.48 272.30,210.36 272.55,210.20 272.80,210.00 273.05,209.77 273.30,209.51 273.55,209.24 273.80,208.97 274.05,208.70 274.30,208.43 274.55,208.19 274.80,207.97 275.05,207.79 275.30,207.64 275.55,207.55 275.80,207.52 276.05,207.55 276.30,207.66 276.55,207.84 276.80,208.09 277.05,208.38 277.30,208.70 277.55,209.06 277.80,209.45 278.05,209.86 278.30,210.30 278.55,210.75 278.80,211.22 279.05,211.70 279.30,212.19 279.55,212.68 279.80,213.17 280.05,213.65 280.30,214.13 280.55,214.59 280.80,215.12 281.05,215.74 281.30,216.42 281.55,217.16 281.80,217.94 282.05,218.73 282.30,219.53 282.55,220.32 282.80,221.08 283.05,221.79 283.30,222.45 283.55,223.02 283.80,223.50 284.05,223.23 284.30,221.72 284.55,219.24 284.80,216.02 285.05,212.34 285.30,208.23 285.55,202.39 285.80,195.18 286.05,187.43 286.30,180.00 286.55,171.67 286.80,162.01 287.05,153.04 287.30,146.75 287.55,145.14 287.80,148.91 288.05,156.41 288.30,165.78 288.55,175.15 288.80,183.01 289.05,191.10 289.30,199.36 289.55,206.96 289.80,213.12 290.05,217.44 290.30,221.14 290.55,224.41 290.80,227.24 291.05,229.67 291.30,231.68 291.55,233.31 291.80,234.56 292.05,235.43 292.30,235.95 292.55,236.12 292.80,235.96 293.05,235.45 293.30,233.83 293.55,230.98 293.80,227.25 294.05,222.98 294.30,218.50 294.55,214.09 294.80,207.74 295.05,198.34 295.30,185.86 295.55,165.82 295.80,131.90 296.05,103.53 296.30,74.71 296.55,49.56 296.80,34.27 297.05,35.85 297.30,52.92 297.55,69.96 297.80,89.16 298.05,114.08 298.30,177.00 298.55,170.36 298.80,155.98 299.05,138.90 299.30,124.13 299.55,114.16 299.80,103.31 300.05,94.96 300.30,93.60 300.55,107.29 300.80,131.05 301.05,152.95 301.30,175.37 301.55,195.36 301.80,213.90 302.05,222.63 302.30,225.56 302.55,227.99 302.80,229.70 303.05,230.52 303.30,230.35 303.55,229.97 303.80,229.58 304.05,229.17 304.30,228.75 304.55,228.28 304.80,227.77 305.05,227.20 305.30,226.56 305.55,225.85 305.80,225.10 306.05,224.32 306.30,223.51 306.55,222.66 306.80,221.76 307.05,220.83 307.30,219.83 307.55,218.78 307.80,217.56 308.05,216.17 308.30,214.67 308.55,213.13 308.80,211.61 309.05,210.17 309.30,208.88 309.55,207.80 309.80,206.79 310.05,205.82 310.30,204.90 310.55,204.08 310.80,203.40 311.05,202.88 311.30,202.57 311.55,202.51 311.80,202.69 312.05,203.10 312.30,203.70 312.55,204.44 312.80,205.29 313.05,206.23 313.30,207.21 313.55,208.20 313.80,209.40 314.05,210.82 314.30,212.32 314.55,213.80 314.80,215.13 315.05,216.19 315.30,217.14 315.55,218.06 315.80,218.97 316.05,219.85 316.30,220.72 316.55,221.56 316.80,222.38 317.05,223.17 317.30,223.94 317.55,224.68 317.80,225.40 318.05,226.09 318.30,226.75 318.55,227.38 318.80,227.98 319.05,228.55 319.30,229.09 319.55,229.60 319.80,230.11 320.05,230.64 320.30,231.17 320.55,231.71 320.80,232.24 321.05,232.75 321.30,233.24 321.55,233.70 321.80,234.13 322.05,234.51 322.30,234.84 322.55,235.11 322.80,235.32 323.05,235.46 323.30,235.52 323.55,235.56 323.80,235.61 324.05,235.65 324.30,235.70 324.55,235.74 324.80,235.78 325.05,235.82 325.30,235.85 325.55,235.89 325.80,235.93 326.05,235.96 326.30,235.99 326.55,236.03 326.80,236.06 327.05,236.08 327.30,236.11 327.55,236.14 327.80,236.16 328.05,236.18 328.30,236.20 328.55,236.22 328.80,236.24 329.05,236.26 329.30,236.27 329.55,236.28 329.80,236.29 330.05,236.30 330.30,236.31 330.55,236.32 330.80,236.32 331.05,236.33 331.30,236.34 331.55,236.34 331.80,236.35 332.05,236.35 332.30,236.36 332.55,236.37 332.80,236.37 333.05,236.37 333.30,236.38 333.55,236.38 333.80,236.39 334.05,236.39 334.30,236.39 334.55,236.40 334.80,236.40 335.05,236.40 335.30,236.41 335.55,236.41 335.80,236.41 336.05,236.41 336.30,236.41 336.55,236.41 336.80,236.41 337.05,236.41 337.30,236.42 337.55,236.42 337.80,236.42 338.05,236.41 338.30,236.41 338.55,236.41 338.80,236.41 339.05,236.41 339.30,236.41 339.55,236.41 339.80,236.41 340.05,236.40 340.30,236.40 340.55,236.40 340.80,236.40 341.05,236.39 341.30,236.39 341.55,236.39 341.80,236.38 342.05,236.38 342.30,236.37 342.55,236.37 342.80,236.36 343.05,236.36 343.30,236.35 343.55,236.35 343.80,236.34 344.05,236.34 344.30,236.33 344.55,236.33 344.80,236.32 345.05,236.31 345.30,236.31 345.55,236.30 345.80,236.26 346.05,236.18 346.30,236.07 346.55,235.93 346.80,235.77 347.05,235.59 347.30,235.39 347.55,235.20 347.80,235.00 348.05,234.74 348.30,234.36 348.55,233.88 348.80,233.31 349.05,232.67 349.30,231.98 349.55,231.25 349.80,230.50 350.05,229.74 350.30,229.00 350.55,228.21 350.80,227.29 351.05,226.25 351.30,225.10 351.55,223.85 351.80,222.49 352.05,221.03 352.30,219.48 352.55,217.84 352.80,215.77 353.05,212.90 353.30,209.88 353.55,207.38 353.80,205.62 354.05,203.99 354.30,202.49 354.55,201.15 354.80,199.97 355.05,198.99 355.30,198.20 355.55,197.45 355.80,196.76 356.05,196.18 356.30,195.77 356.55,195.58 356.80,195.68 357.05,196.03 357.30,196.59 357.55,197.31 357.80,198.15 358.05,199.14 358.30,200.62 358.55,202.47 358.80,204.51 359.05,206.59 359.30,208.70 359.55,211.00 359.80,213.37 360.05,215.69 360.30,217.87 360.55,220.14 360.80,222.44 361.05,224.63 361.30,226.58 361.55,228.12 361.80,229.18 362.05,230.09 362.30,230.95 362.55,231.76 362.80,232.50 363.05,233.18 363.30,233.78 363.55,234.31 363.80,234.75 364.05,235.11 364.30,235.37 364.55,235.53 364.80,235.66 365.05,235.79 365.30,235.92 365.55,236.03 365.80,236.14 366.05,236.22 366.30,236.28 366.55,236.30 366.80,236.32 367.05,236.33 367.30,236.35 367.55,236.37 367.80,236.38 368.05,236.40 368.30,236.41 368.55,236.42 368.80,236.43 369.05,236.44 369.30,236.45 369.55,236.45 369.80,236.45 370.05,236.45 370.30,236.44 370.55,236.43 370.80,236.42 371.05,236.41 371.30,236.38 371.55,236.36 371.80,236.33" fill="none" stroke="#525252" stroke-width="1.0" stroke-linejoin="round"/>
<rect x="46.8" y="5" width="325.2" height="232.0" fill="none" stroke="#151515" stroke-width="1.4"/>
<g stroke="#111" stroke-width="1">
<line x1="46.8" y1="198.20" x2="49.8" y2="198.20"/>
<line x1="46.8" y1="159.40" x2="49.8" y2="159.40"/>
<line x1="46.8" y1="120.60" x2="49.8" y2="120.60"/>
<line x1="46.8" y1="81.80" x2="49.8" y2="81.80"/>
<line x1="46.8" y1="43.00" x2="49.8" y2="43.00"/>
<line x1="56.09" y1="237.0" x2="56.09" y2="234.0"/>
<line x1="65.38" y1="237.0" x2="65.38" y2="234.0"/>
<line x1="74.67" y1="237.0" x2="74.67" y2="234.0"/>
<line x1="83.97" y1="237.0" x2="83.97" y2="234.0"/>
<line x1="93.26" y1="237.0" x2="93.26" y2="234.0"/>
<line x1="102.55" y1="237.0" x2="102.55" y2="234.0"/>
<line x1="111.84" y1="237.0" x2="111.84" y2="234.0"/>
<line x1="121.13" y1="237.0" x2="121.13" y2="234.0"/>
<line x1="130.42" y1="237.0" x2="130.42" y2="234.0"/>
<line x1="139.71" y1="237.0" x2="139.71" y2="234.0"/>
<line x1="149.01" y1="237.0" x2="149.01" y2="234.0"/>
<line x1="158.30" y1="237.0" x2="158.30" y2="234.0"/>
<line x1="167.59" y1="237.0" x2="167.59" y2="234.0"/>
<line x1="176.88" y1="237.0" x2="176.88" y2="234.0"/>
<line x1="186.17" y1="237.0" x2="186.17" y2="234.0"/>
<line x1="195.46" y1="237.0" x2="195.46" y2="234.0"/>
<line x1="204.75" y1="237.0" x2="204.75" y2="234.0"/>
<line x1="214.05" y1="237.0" x2="214.05" y2="234.0"/>
<line x1="223.34" y1="237.0" x2="223.34" y2="234.0"/>
<line x1="232.63" y1="237.0" x2="232.63" y2="234.0"/>
<line x1="241.92" y1="237.0" x2="241.92" y2="234.0"/>
<line x1="251.21" y1="237.0" x2="251.21" y2="234.0"/>
<line x1="260.50" y1="237.0" x2="260.50" y2="234.0"/>
<line x1="269.79" y1="237.0" x2="269.79" y2="234.0"/>
<line x1="279.09" y1="237.0" x2="279.09" y2="234.0"/>
<line x1="288.38" y1="237.0" x2="288.38" y2="234.0"/>
<line x1="297.67" y1="237.0" x2="297.67" y2="234.0"/>
<line x1="306.96" y1="237.0" x2="306.96" y2="234.0"/>
<line x1="316.25" y1="237.0" x2="316.25" y2="234.0"/>
<line x1="325.54" y1="237.0" x2="325.54" y2="234.0"/>
<line x1="334.83" y1="237.0" x2="334.83" y2="234.0"/>
<line x1="344.13" y1="237.0" x2="344.13" y2="234.0"/>
<line x1="353.42" y1="237.0" x2="353.42" y2="234.0"/>
<line x1="362.71" y1="237.0" x2="362.71" y2="234.0"/>
</g>
<g font-size="10" fill="#1a1a1a" stroke="#1a1a1a" stroke-width="0.45">
<text x="43.5" y="202.80" text-anchor="end">1</text>
<text x="43.5" y="164.00" text-anchor="end">2</text>
<text x="43.5" y="125.20" text-anchor="end">3</text>
<text x="43.5" y="86.40" text-anchor="end">4</text>
<text x="43.5" y="47.60" text-anchor="end">5</text>
<text x="47.30" y="250.5" text-anchor="middle">0.0</text>
<text x="93.76" y="250.5" text-anchor="middle">0.5</text>
<text x="140.21" y="250.5" text-anchor="middle">1.0</text>
<text x="186.67" y="250.5" text-anchor="middle">1.5</text>
<text x="233.13" y="250.5" text-anchor="middle">2.0</text>
<text x="279.59" y="250.5" text-anchor="middle">2.5</text>
<text x="326.04" y="250.5" text-anchor="middle">3.0</text>
<text x="372.50" y="250.5" text-anchor="middle">3.5</text>
</g>
<g font-size="11.2" fill="#111" stroke="#111" stroke-width="0.25" text-anchor="middle">
<text x="146.2" y="22">Twin Knobs lamproite</text>
<text x="155" y="36.3" font-size="11.3">41 sulfide grains in 15 microxenoliths</text>
<text x="150.5" y="50.3">T<tspan font-size="9" dy="3">RD</tspan><tspan dy="-3"> model ages</tspan></text>
</g>
<text x="356.8" y="23.6" font-size="12.5" fill="#111" stroke="#111" stroke-width="0.25">A</text>
<text transform="translate(29.8,259.5) rotate(-90)" font-size="12.7" fill="#111" stroke="#111" stroke-width="0.3">Number</text>
<text transform="translate(382.5,67.4) rotate(90)" font-size="12.6" fill="#111" stroke="#111" stroke-width="0.3">Relative probability</text>
<text x="189" y="266" font-size="13" fill="#111" stroke="#111" stroke-width="0.3">T<tspan font-size="10.5" dy="2.5">RD</tspan><tspan dy="-2.5"> (Ga)</tspan></text>

<rect x="47.5" y="279.0" width="324.5" height="185.5" fill="#fed69c" stroke="#202020" stroke-width="1.4"/>
<g stroke="#111" stroke-width="1">
<line x1="47.5" y1="433.58" x2="50.5" y2="433.58"/>
<line x1="47.5" y1="402.67" x2="50.5" y2="402.67"/>
<line x1="47.5" y1="371.75" x2="50.5" y2="371.75"/>
<line x1="47.5" y1="340.83" x2="50.5" y2="340.83"/>
<line x1="47.5" y1="309.92" x2="50.5" y2="309.92"/>
<line x1="82.00" y1="464.5" x2="82.00" y2="461.5"/>
<line x1="114.20" y1="464.5" x2="114.20" y2="461.5"/>
<line x1="146.40" y1="464.5" x2="146.40" y2="461.5"/>
<line x1="178.60" y1="464.5" x2="178.60" y2="461.5"/>
<line x1="210.80" y1="464.5" x2="210.80" y2="461.5"/>
<line x1="243.00" y1="464.5" x2="243.00" y2="461.5"/>
<line x1="275.20" y1="464.5" x2="275.20" y2="461.5"/>
<line x1="307.40" y1="464.5" x2="307.40" y2="461.5"/>
<line x1="339.60" y1="464.5" x2="339.60" y2="461.5"/>
</g>
<line x1="80" y1="279.0" x2="80" y2="464.5" stroke="#383838" stroke-width="1.6" stroke-dasharray="13.2 6.3"/>
<path d="M59.50 303.00 C60.25 307.50 62.58 321.75 64.00 330.00 C65.42 338.25 66.75 345.50 68.00 352.50 C69.25 359.50 70.25 364.17 71.50 372.00 C72.75 379.83 74.22 393.17 75.50 399.50 C76.78 405.83 78.08 407.00 79.20 410.00 C80.32 413.00 81.20 415.13 82.20 417.50 C83.20 419.87 84.07 421.70 85.20 424.20 C86.33 426.70 87.37 429.87 89.00 432.50 C90.63 435.13 93.00 437.63 95.00 440.00 C97.00 442.37 99.25 444.83 101.00 446.70 C102.75 448.57 103.17 449.73 105.50 451.20 C107.83 452.67 110.92 454.15 115.00 455.50 C119.08 456.85 124.83 458.38 130.00 459.30 C135.17 460.22 143.33 460.72 146.00 461.00" fill="none" stroke="#111" stroke-width="1.6" stroke-dasharray="2.5 2"/>
<path d="M143 457.5 L153 461 L143 464.5Z" fill="#111"/>
<g stroke="#111" stroke-width="1.1">
<line x1="116.6" y1="304.4" x2="84" y2="318.5"/>
<line x1="105" y1="338.75" x2="71" y2="352"/>
<line x1="138.1" y1="368.5" x2="116" y2="378"/>
</g>
<g fill="#111">
<path d="M80.6 319.75 L86.5 314.5 L88 319Z"/>
<path d="M67.5 353.25 L73.5 348 L75 352.5Z"/>
<path d="M112.7 379.3 L118.5 374 L120 378.5Z"/>
</g>
<g fill="#f81010" stroke="#0a0a0a" stroke-width="1.5">
<path d="M60.2 295.8L63.1 298.6L60.2 301.5L57.4 298.6Z"/>
<path d="M80.0 360.8L82.8 363.6L80.0 366.5L77.2 363.6Z"/>
<path d="M74.0 375.3L76.8 378.2L74.0 381.1L71.2 378.2Z"/>
<path d="M71.0 395.6L73.8 398.5L71.0 401.4L68.2 398.5Z"/>
<path d="M76.7 425.8L79.5 428.7L76.7 431.6L73.9 428.7Z"/>
<path d="M81.8 425.8L84.6 428.7L81.8 431.6L79.0 428.7Z"/>
<path d="M86.7 430.8L89.5 433.7L86.7 436.6L83.9 433.7Z"/>
<path d="M74.7 436.3L77.5 439.2L74.7 442.1L71.9 439.2Z"/>
<path d="M82.2 440.1L85.0 443.0L82.2 445.9L79.4 443.0Z"/>
<path d="M91.2 442.8L94.0 445.7L91.2 448.6L88.4 445.7Z"/>
<path d="M108.2 433.6L111.0 436.5L108.2 439.4L105.4 436.5Z"/>
<path d="M107.0 448.6L109.8 451.5L107.0 454.4L104.2 451.5Z"/>
<path d="M103.9 453.0L106.8 455.9L103.9 458.8L101.1 455.9Z"/>
<path d="M96.3 455.8L99.1 458.7L96.3 461.6L93.5 458.7Z"/>
<path d="M88.2 459.6L91.0 462.5L88.2 465.4L85.4 462.5Z"/>
<path d="M95.7 461.1L98.5 464.0L95.7 466.9L92.9 464.0Z"/>
<path d="M99.2 459.3L102.0 462.2L99.2 465.1L96.4 462.2Z"/>
<path d="M103.7 460.1L106.5 463.0L103.7 465.9L100.9 463.0Z"/>
<path d="M110.0 458.4L112.8 461.3L110.0 464.2L107.2 461.3Z"/>
<path d="M113.7 456.3L116.5 459.2L113.7 462.1L110.9 459.2Z"/>
<path d="M113.9 460.3L116.8 463.2L113.9 466.1L111.1 463.2Z"/>
<path d="M118.2 456.0L121.0 458.9L118.2 461.8L115.4 458.9Z"/>
<path d="M122.2 460.5L125.0 463.4L122.2 466.2L119.4 463.4Z"/>
<path d="M130.0 441.3L132.8 444.2L130.0 447.1L127.2 444.2Z"/>
<path d="M126.5 448.3L129.3 451.2L126.5 454.1L123.7 451.2Z"/>
<path d="M129.2 452.1L132.0 455.0L129.2 457.9L126.3 455.0Z"/>
<path d="M142.2 450.6L145.0 453.5L142.2 456.4L139.3 453.5Z"/>
<path d="M140.0 456.6L142.8 459.5L140.0 462.4L137.2 459.5Z"/>
<path d="M126.5 456.6L129.3 459.5L126.5 462.4L123.7 459.5Z"/>
<path d="M129.5 459.3L132.3 462.2L129.5 465.1L126.7 462.2Z"/>
<path d="M133.2 460.3L136.0 463.2L133.2 466.1L130.3 463.2Z"/>
<path d="M143.7 460.3L146.5 463.2L143.7 466.1L140.8 463.2Z"/>
<path d="M141.0 457.1L143.8 460.0L141.0 462.9L138.2 460.0Z"/>
<path d="M158.0 457.8L160.8 460.6L158.0 463.5L155.2 460.6Z"/>
<path d="M180.0 445.1L182.8 448.0L180.0 450.9L177.2 448.0Z"/>
<path d="M178.4 455.1L181.2 458.0L178.4 460.9L175.6 458.0Z"/>
<path d="M180.0 459.8L182.8 462.6L180.0 465.5L177.2 462.6Z"/>
<path d="M183.6 460.1L186.4 463.0L183.6 465.9L180.8 463.0Z"/>
<path d="M197.6 459.8L200.4 462.6L197.6 465.5L194.8 462.6Z"/>
<path d="M136.5 456.3L139.3 459.2L136.5 462.1L133.7 459.2Z"/>
<path d="M261.4 460.8L264.2 463.7L261.4 466.6L258.5 463.7Z"/>
<path d="M368.8 460.3L371.7 463.2L368.8 466.1L365.9 463.2Z"/>
</g>
<g font-size="10" fill="#111" stroke="#111" stroke-width="0.25">
<text x="96" y="300.6">T<tspan font-size="8" dy="2">RD</tspan><tspan dy="-2"> = 2.5 Ga</tspan></text>
<text x="95" y="335.5">Mixing line</text>
<text x="134.3" y="366.2">T<tspan font-size="8" dy="2">RD</tspan><tspan dy="-2"> = 1.0 Ga</tspan></text>
</g>
<text x="356.6" y="297.6" font-size="12.3" fill="#111" stroke="#111" stroke-width="0.25">B</text>
<g font-size="9.7" fill="#1a1a1a" stroke="#1a1a1a" stroke-width="0.4">
<text x="42.8" y="468.40" text-anchor="end">0</text>
<text x="42.8" y="437.48" text-anchor="end">200</text>
<text x="42.8" y="406.57" text-anchor="end">400</text>
<text x="42.8" y="375.65" text-anchor="end">600</text>
<text x="42.8" y="344.73" text-anchor="end">800</text>
<text x="42.8" y="313.82" text-anchor="end">1000</text>
<text x="42.8" y="282.90" text-anchor="end">1200</text>
<text x="83.30" y="476.6" text-anchor="middle">0.11</text>
<text x="147.70" y="476.6" text-anchor="middle">0.13</text>
<text x="212.10" y="476.6" text-anchor="middle">0.15</text>
<text x="276.50" y="476.6" text-anchor="middle">0.17</text>
<text x="340.90" y="476.6" text-anchor="middle">0.19</text>
</g>
<text transform="translate(18.4,398.4) rotate(-90)" font-size="12.6" fill="#111" stroke="#111" stroke-width="0.3">Os (ppm)</text>
<text x="180.5" y="494" font-size="12.9" fill="#111" stroke="#111" stroke-width="0.3"><tspan font-size="9" dy="-4">187</tspan><tspan dy="4">Os/</tspan><tspan font-size="9" dy="-4">188</tspan><tspan dy="4">Os</tspan></text>
</svg>
</body></html>
